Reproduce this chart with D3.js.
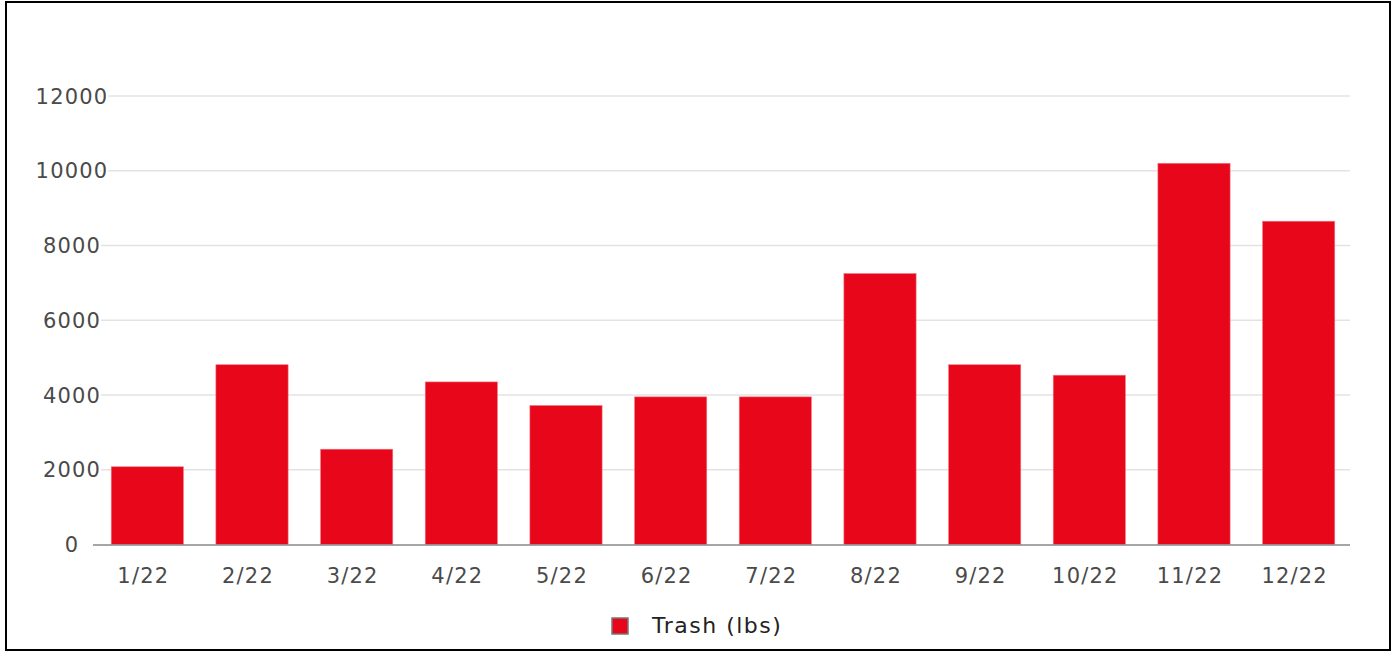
<!DOCTYPE html>
<html>
<head>
<meta charset="utf-8">
<script src="https://cdn.jsdelivr.net/npm/d3@7"></script>
<style>
  body { margin: 0; background: #fff; }
  svg { display: block; font-family: "DejaVu Sans", sans-serif; }
</style>
</head>
<body>
<svg id="chart" width="1399" height="652"></svg>
<script>
//data
var months = ['1/22', '2/22', '3/22', '4/22', '5/22', '6/22', '7/22', '8/22', '9/22', '10/22', '11/22', '12/22'];
var trash = [2080, 4810, 2550, 4350, 3720, 3950, 3950, 7250, 4810, 4530, 10200, 8650];
var yTicks = [0, 2000, 4000, 6000, 8000, 10000, 12000];
var seriesName = 'Trash (lbs)';

var svg = d3.select('#chart');

//frame
svg.append('rect')
    .attr('x', 6)
    .attr('y', 2)
    .attr('width', 1384)
    .attr('height', 648)
    .attr('fill', 'none')
    .attr('stroke', '#000')
    .attr('stroke-width', 2);

//scales
var xScale = d3.scaleBand()
    .domain(months)
    .range([95, 1351])
    .paddingInner(0.31)
    .paddingOuter(0.155);

var yScale = d3.scaleLinear()
    .domain([0, 12000])
    .range([544.5, 96]);

//grid
svg.append('g')
    .selectAll('line')
    .data(yTicks.filter(function(d) { return d > 0; }))
    .enter().append('line')
    .attr('x1', 93)
    .attr('x2', 1350)
    .attr('y1', function(d) { return yScale(d); })
    .attr('y2', function(d) { return yScale(d); })
    .attr('stroke', '#e3e3e3')
    .attr('stroke-width', 1.5);

//y labels, centred, with a white halo over the grid
svg.append('g')
    .selectAll('text')
    .data(yTicks)
    .enter().append('text')
    .attr('x', 72)
    .attr('y', function(d) { return yScale(d); })
    .attr('dy', '0.36em')
    .attr('text-anchor', 'middle')
    .attr('font-size', 21)
    .attr('letter-spacing', 1.2)
    .attr('fill', '#4a4a4a')
    .attr('stroke', '#fff')
    .attr('stroke-width', 5)
    .attr('paint-order', 'stroke')
    .text(function(d) { return d; });

//bars
svg.append('g')
    .selectAll('rect')
    .data(trash)
    .enter().append('rect')
    .attr('x', function(d, i) { return xScale(months[i]); })
    .attr('y', function(d) { return yScale(d); })
    .attr('width', xScale.bandwidth())
    .attr('height', function(d) { return yScale(0) - yScale(d); })
    .attr('fill', '#e8061a')
    .attr('stroke', '#f07c86')
    .attr('stroke-width', 0.6);

//x axis
var xAxis = d3.axisBottom(xScale).tickSize(0).tickPadding(24);

var xAxisG = svg.append('g')
    .attr('transform', 'translate(0,' + yScale(0) + ')')
    .call(xAxis);

xAxisG.select('.domain')
    .attr('d', 'M93,0.5H1350')
    .attr('stroke', '#888')
    .attr('stroke-width', 1.5);

xAxisG.selectAll('.tick text')
    .attr('x', -4)
    .attr('font-family', '"DejaVu Sans", sans-serif')
    .attr('font-size', 21)
    .attr('letter-spacing', 1.2)
    .attr('fill', '#4a4a4a');

//legend
var legend = svg.append('g')
    .attr('transform', 'translate(612, 618)');

legend.append('rect')
    .attr('width', 16)
    .attr('height', 16)
    .attr('fill', '#e8061a')
    .attr('stroke', '#777')
    .attr('stroke-width', 1.5);

legend.append('text')
    .attr('x', 40)
    .attr('y', 7)
    .attr('dy', '0.36em')
    .attr('font-size', 22)
    .attr('letter-spacing', 1.5)
    .attr('fill', '#222')
    .text(seriesName);
</script>
</body>
</html>
